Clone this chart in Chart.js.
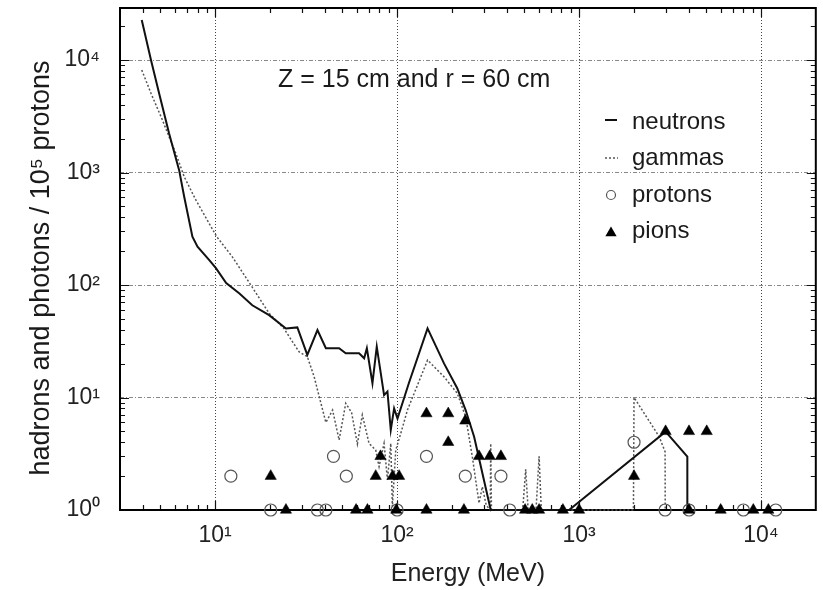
<!DOCTYPE html>
<html><head><meta charset="utf-8">
<script src="https://cdn.jsdelivr.net/npm/chart.js@4.4.1/dist/chart.umd.min.js"></script>
<style>html,body{margin:0;padding:0;background:#fff;}</style>
</head><body>
<canvas id="c" width="823" height="590"></canvas>
<script>
// ---- data (Energy in MeV, counts per 1e5 protons) ----
const neutronE = [3.95, 4.44, 4.92, 5.58, 6.34, 6.76, 7.5, 8.0, 9.26, 10.1, 11.5, 13.6, 16.0, 19.8, 24.5, 28.3, 32.1, 36.5, 40.6, 48.0, 52.2, 61.8, 65.9, 68.2, 73.2, 77.3, 84.8, 88.5, 92.3, 96.3, 100.5, 116, 147, 181, 214, 238, 265, 300, 327, 881, 2990, 3935, 3936];
const neutronV = [22700, 10000, 5060, 2230, 1050, 609, 269, 219, 167, 141, 104, 84, 66, 54, 41, 42, 23.9, 39.8, 27.4, 27.4, 24.7, 24.7, 22.3, 27.4, 13.4, 28.3, 10.5, 11.3, 5.14, 8.0, 6.5, 13.4, 41.2, 20.1, 12.1, 7.74, 4.48, 1.85, 1.0, 1.0, 4.97, 2.98, 1.0];
const gammaE = [3.95, 4.44, 5.13, 5.58, 6.08, 6.76, 7.83, 9.26, 10.2, 12.4, 15.7, 19.8, 23.9, 28.9, 32.1, 35.0, 37.3, 40.6, 44.2, 48.0, 52.2, 56.2, 60.5, 64.4, 70.1, 76.3, 79.6, 84.8, 88.5, 92.3, 94.2, 98.3, 104.8, 114, 147, 181, 214, 238, 259, 282, 294, 309, 325, 327, 330, 490, 509, 525, 580, 603, 620, 1990, 2005, 2754, 2970, 2975];
const gammaV = [8150, 5060, 2930, 2080, 1480, 918, 570, 354, 269, 179, 100, 56, 41, 25.5, 23.1, 15.3, 10.2, 6.0, 7.74, 4.19, 8.88, 7.36, 3.86, 7.0, 3.91, 3.41, 2.43, 3.91, 1.85, 3.91, 1.07, 3.41, 4.81, 7.74, 21.5, 15.3, 10.9, 6.75, 2.98, 1.15, 1.61, 1.1, 1.0, 3.9, 1.0, 1.0, 2.3, 1.0, 1.0, 3.0, 1.0, 1.0, 10, 4.5, 3.3, 1.0];
const protonE = [12.2, 20.2, 36.5, 40.6, 44.7, 52.6, 100, 145, 237, 372, 416, 2005, 2970, 4020, 8000, 12050];
const protonV = [2, 1, 1, 1, 3, 2, 1, 3, 2, 2, 1, 4, 1, 1, 1, 1];
const pionE = [20.2, 24.5, 59.5, 68.7, 76.3, 81, 94.5, 102.6, 99, 145, 145, 191, 191, 237, 233, 282, 323, 372, 505, 553, 603, 815, 1000, 2005, 2990, 4020, 5030, 4020, 6000, 9070, 10970];
const pionV = [2, 1, 1, 1, 2, 3, 2, 2, 1, 7.2, 1, 7.2, 4, 6.2, 1, 3, 3, 3, 1, 1, 1, 1, 1, 2, 5, 5, 5, 1, 1, 1, 1];

const seriesNames = ['neutrons', 'gammas', 'protons', 'pions'];
const xRange = [3, 20000];
const yRange = [1, 29000];
const xDecades = [10, 100, 1000, 10000];
const yDecades = [1, 10, 100, 1000, 10000];
const annotation = 'Z = 15 cm and r = 60 cm';
const xTitle = 'Energy (MeV)';
const yTitle = 'hadrons and photons / 10\u2075 protons';

const FONT = "'Liberation Sans', Arial, Helvetica, sans-serif";
const SUP = {'0':'\u2070','1':'\u00B9','2':'\u00B2','3':'\u00B3','4':'\u2074','5':'\u2075'};

function pts(E, V) { return E.map((e, i) => ({x: e, y: V[i]})); }
function isDecade(v) { const l = Math.log10(v); return Math.abs(l - Math.round(l)) < 1e-9; }
function logTicks(lo, hi) {
  const out = [];
  for (let k = -1; k <= 6; k++) for (let m = 1; m <= 9; m++) {
    const v = +(m * Math.pow(10, k)).toPrecision(6);
    if (v >= lo - 1e-9 && v <= hi + 1e-9) out.push(v);
  }
  return out;
}
const xTickVals = logTicks(xRange[0], xRange[1]);
const yTickVals = logTicks(yRange[0], yRange[1]);
function label(v) {
  if (!isDecade(v)) return '';
  const e = String(Math.round(Math.log10(v)));
  return '10' + e.split('').map(c => SUP[c]).join('');
}
function noPad(s) { s.paddingTop = 0; s.paddingBottom = 0; s.paddingLeft = 0; s.paddingRight = 0; }

const framePlugin = {
  id: 'frame',
  beforeDatasetsDraw(chart) {
    const {ctx, chartArea: a, scales: {x, y}} = chart;
    ctx.save();
    ctx.strokeStyle = '#111';
    ctx.lineWidth = 1.2;
    ctx.beginPath();
    xTickVals.forEach(v => {
      const px = Math.round(x.getPixelForValue(v)) + 0.5;
      if (px < a.left + 1 || px > a.right - 1) return;
      const len = isDecade(v) ? 9 : 5;
      ctx.moveTo(px, a.bottom); ctx.lineTo(px, a.bottom - len);
      ctx.moveTo(px, a.top); ctx.lineTo(px, a.top + len);
    });
    yTickVals.forEach(v => {
      const py = Math.round(y.getPixelForValue(v)) + 0.5;
      if (py < a.top + 1 || py > a.bottom - 1) return;
      const len = isDecade(v) ? 9 : 5;
      ctx.moveTo(a.left, py); ctx.lineTo(a.left + len, py);
      ctx.moveTo(a.right, py); ctx.lineTo(a.right - len, py);
    });
    ctx.stroke();
    ctx.lineWidth = 2;
    ctx.strokeStyle = '#000';
    ctx.strokeRect(a.left, a.top, a.right - a.left, a.bottom - a.top);
    ctx.restore();
  },
  afterDraw(chart) {
    const ctx = chart.ctx;
    const ds = chart.data.datasets;
    ctx.save();
    ctx.fillStyle = '#1a1a1a';
    // y axis title
    ctx.save();
    ctx.font = '27px ' + FONT;
    ctx.textAlign = 'center';
    ctx.textBaseline = 'middle';
    ctx.translate(42, 268);
    ctx.rotate(-Math.PI / 2);
    ctx.fillText(yTitle, 0, 0);
    ctx.restore();
    // annotation
    ctx.font = '25px ' + FONT;
    ctx.textBaseline = 'alphabetic';
    ctx.textAlign = 'left';
    ctx.fillText(annotation, 278, 87);
    // legend
    ctx.font = '24px ' + FONT;
    const lx = 632, sx = 611;
    const rows = [129, 165, 202, 238];
    const sy = [120, 158, 195, 233];
    seriesNames.forEach((n, i) => ctx.fillText(n, lx, rows[i]));
    ctx.strokeStyle = ds[0].borderColor; ctx.lineWidth = 2;
    ctx.beginPath(); ctx.moveTo(605, sy[0]); ctx.lineTo(617, sy[0]); ctx.stroke();
    ctx.strokeStyle = ds[1].borderColor; ctx.lineWidth = 1.5; ctx.setLineDash(ds[1].borderDash);
    ctx.beginPath(); ctx.moveTo(605, sy[1]); ctx.lineTo(618, sy[1]); ctx.stroke();
    ctx.setLineDash([]);
    ctx.strokeStyle = ds[2].borderColor; ctx.lineWidth = 1.2;
    ctx.beginPath(); ctx.arc(sx, sy[2], 4.5, 0, Math.PI * 2); ctx.stroke();
    ctx.fillStyle = ds[3].backgroundColor;
    const r = 6.5;
    ctx.beginPath();
    ctx.moveTo(sx, sy[3] - r);
    ctx.lineTo(sx + r * Math.sin(2 * Math.PI / 3), sy[3] + r / 2);
    ctx.lineTo(sx - r * Math.sin(2 * Math.PI / 3), sy[3] + r / 2);
    ctx.closePath(); ctx.fill();
    ctx.restore();
  }
};

new Chart(document.getElementById('c'), {
  type: 'scatter',
  data: {
    datasets: [
      {label: seriesNames[0], data: pts(neutronE, neutronV), showLine: true, borderColor: '#111', borderWidth: 2,
       pointRadius: 0, tension: 0, clip: false, order: 2},
      {label: seriesNames[1], data: pts(gammaE, gammaV), showLine: true, borderColor: '#555', borderWidth: 1.5,
       borderDash: [2, 2], pointRadius: 0, tension: 0, clip: false, order: 3},
      {label: seriesNames[2], data: pts(protonE, protonV), showLine: false, pointStyle: 'circle', pointRadius: 6,
       borderColor: '#555', borderWidth: 1.2, backgroundColor: 'rgba(255,255,255,0)', clip: false, order: 1},
      {label: seriesNames[3], data: pts(pionE, pionV), showLine: false, pointStyle: 'triangle', pointRadius: 6.5,
       borderColor: '#000', borderWidth: 0.5, backgroundColor: '#000', clip: false, order: 0}
    ]
  },
  options: {
    responsive: false,
    animation: false,
    layout: {padding: {top: 8, right: 7, left: 0, bottom: 0}},
    plugins: {legend: {display: false}, tooltip: {enabled: false}},
    scales: {
      x: {
        type: 'logarithmic', position: 'bottom', min: xRange[0], max: xRange[1],
        afterBuildTicks: s => { s.ticks = xTickVals.map(v => ({value: v, major: isDecade(v)})); },
        afterFit: s => { s.height = 80; noPad(s); },
        ticks: {autoSkip: false, maxRotation: 0, minRotation: 0, padding: 12, color: '#222',
                font: {size: 23, family: FONT}, callback: v => label(v)},
        grid: {drawTicks: false, lineWidth: 1,
               color: c => (c.tick && xDecades.includes(c.tick.value)) ? '#444' : 'rgba(0,0,0,0)'},
        border: {display: false, dash: [1, 2]},
        title: {display: true, text: xTitle, color: '#222', font: {size: 25, family: FONT}, padding: {top: 0, bottom: 1}}
      },
      y: {
        type: 'logarithmic', position: 'left', min: yRange[0], max: yRange[1],
        afterBuildTicks: s => { s.ticks = yTickVals.map(v => ({value: v, major: isDecade(v)})); },
        afterFit: s => { s.width = 120; noPad(s); },
        ticks: {autoSkip: false, padding: 20, color: '#222', font: {size: 23, family: FONT}, callback: v => label(v)},
        grid: {drawTicks: false, lineWidth: 1,
               color: c => (c.tick && yDecades.includes(c.tick.value) && c.tick.value > yRange[0]) ? '#888' : 'rgba(0,0,0,0)'},
        border: {display: false, dash: [4, 2, 1, 2]},
        title: {display: false, text: yTitle}
      }
    }
  },
  plugins: [framePlugin]
});
</script>
</body></html>
